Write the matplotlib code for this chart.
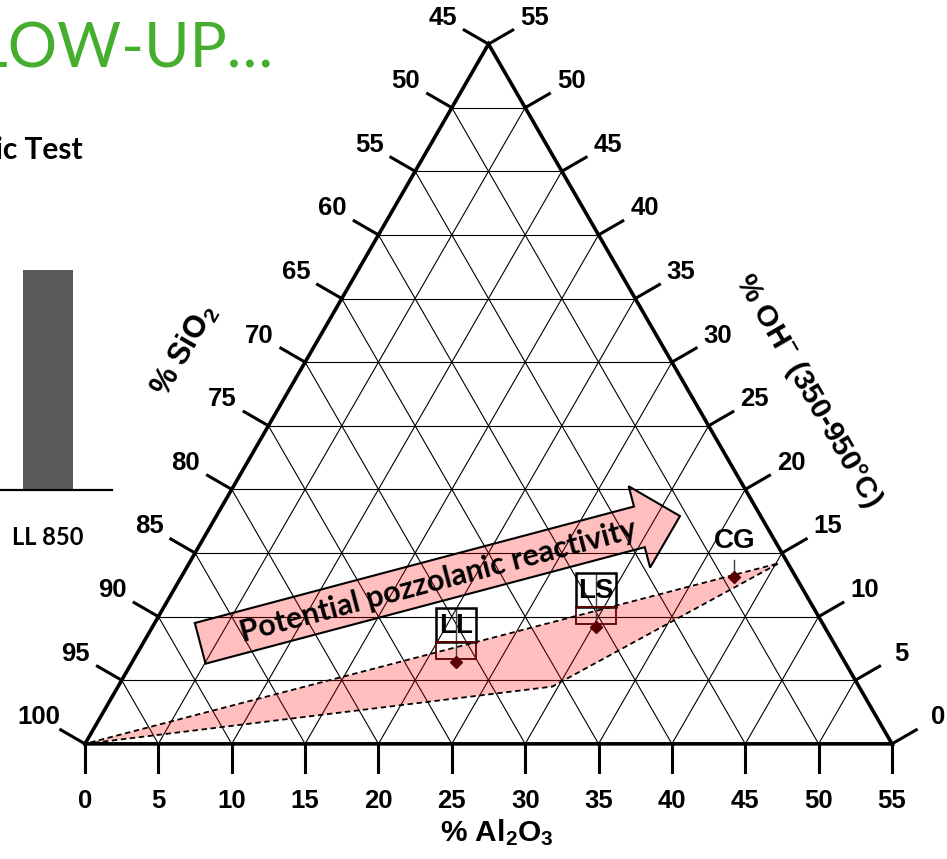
import numpy as np
import matplotlib
matplotlib.use("Agg")
import matplotlib.pyplot as plt
from matplotlib.patches import Polygon, FancyArrow, Rectangle

# sample compositions (wt.%)
samples = ["LL", "LS", "CG"]
al2o3 = [22.1, 30.2, 37.7]
oh = [6.4, 9.2, 13.1]
boxed = [True, True, False]

# dashed "reactive" zone
zone_al2o3 = [0.0, 29.6, 40.2]
zone_oh = [0.0, 4.5, 14.2]

# trend arrow, tail -> tip
arrow_al2o3 = [3.9, 31.6]
arrow_oh = [7.9, 17.9]
arrow_text = "Potential pozzolanic reactivity"

ticks = list(range(0, 56, 5))

# left panel (cropped bar chart from the slide)
bar_labels = ["LL 850"]
bar_values = [80]

plt.rcParams['mathtext.default'] = 'regular'
plt.rcParams['font.family'] = ['Lato', 'DejaVu Sans']
plt.rcParams['font.weight'] = 'bold'
TFONT = ['Liberation Sans', 'DejaVu Sans']

W, H = 947, 859
S3 = np.sqrt(3) / 2
PX = 1 / 14.673  # data units per pixel


def tern(a, o):
    a = np.asarray(a, float)
    o = np.asarray(o, float)
    return a + o / 2, o * S3


fig = plt.figure(figsize=(W / 100, H / 100), dpi=100)
ax = fig.add_axes([0, 0, 1, 1])
ax.set_xlim(-85 * PX, 55 + 55 * PX)
ax.set_ylim(-115 * PX, 55 * S3 + 44 * PX)
ax.axis('off')

# grid every 5 %
for k in range(5, 55, 5):
    for aa, oo in [([0, 55 - k], [k, k]), ([k, k], [0, 55 - k]), ([k, 0], [0, k])]:
        gx, gy = tern(aa, oo)
        ax.plot(gx, gy, color='black', lw=0.8, zorder=1)

# triangle outline
ex, ey = tern([0, 55, 0, 0], [0, 0, 55, 0])
ax.plot(ex, ey, color='black', lw=2.6, zorder=4, solid_joinstyle='miter')

# ticks + tick labels
L = 28 * PX
off = 53 * PX
tk = dict(ha='center', va='center', fontsize=18.5, fontweight='bold', family=TFONT)
for t in ticks:
    x, y = tern(t, 0)
    ax.plot([x, x], [y, y - L], color='black', lw=2.2, zorder=4)
    ax.text(x, y - 57 * PX, str(t), **tk)
    x, y = tern(0, t)
    ax.plot([x, x - S3 * L], [y, y + 0.5 * L], color='black', lw=2.2, zorder=4)
    ax.text(x - S3 * off, y + 0.5 * off, str(100 - t), **tk)
    x, y = tern(55 - t, t)
    ax.plot([x, x + S3 * L], [y, y + 0.5 * L], color='black', lw=2.2, zorder=4)
    ax.text(x + S3 * off, y + 0.5 * off, str(t), **tk)

# axis titles
x, y = tern(0, 26.6)
d = 110 * PX
ax.text(x - S3 * d, y + 0.5 * d, "% SiO$_2$", rotation=60, ha='center', va='center',
        rotation_mode='anchor', fontsize=22, fontweight='bold', family=TFONT)
x, y = tern(55 - 23.7, 23.7)
d = 104 * PX
ax.text(x + S3 * d, y + 0.5 * d, "% OH$^{-}$ (350-950°C)", rotation=-60, ha='center',
        va='center', rotation_mode='anchor', fontsize=21.5, fontweight='bold', family=TFONT)
x, y = tern(28.1, 0)
ax.text(x, y - 89 * PX, "% Al$_2$O$_3$", ha='center', va='center', fontsize=21.5,
        fontweight='bold', family=TFONT)

# reactive zone
zx, zy = tern(zone_al2o3, zone_oh)
ax.add_patch(Polygon(np.column_stack([zx, zy]), closed=True, facecolor=(1, 0, 0, 0.25),
                     edgecolor='black', ls=(0, (3, 2)), lw=1.3, zorder=2))

# arrow
axx, axy = tern(arrow_al2o3, arrow_oh)
ax.add_patch(FancyArrow(axx[0], axy[0], axx[1] - axx[0], axy[1] - axy[0],
                        width=42 * PX, head_width=84 * PX, head_length=42 * PX,
                        length_includes_head=True, facecolor=(1, 0, 0, 0.25),
                        edgecolor='black', lw=1.5, zorder=3))
ang = np.degrees(np.arctan2(axy[1] - axy[0], axx[1] - axx[0]))
ax.text(axx.mean() - 2 * PX, axy.mean() - 1 * PX, arrow_text, rotation=ang,
        rotation_mode='anchor', ha='center', va='center', fontsize=22,
        fontweight='bold', zorder=6)

# samples
sx, sy = tern(al2o3, oh)
for name, x, y, bx in zip(samples, sx, sy, boxed):
    if bx:
        ax.plot([x, x], [y + 3 * PX, y + 54 * PX], color='#404040', lw=1, zorder=5)
        ax.add_patch(Rectangle((x - 20 * PX, y + 20 * PX), 40 * PX, 34 * PX, fill=False,
                               edgecolor='black', lw=1.8, zorder=5))
        ax.add_patch(Rectangle((x - 20 * PX, y + 3 * PX), 40 * PX, 17 * PX, fill=False,
                               edgecolor='#5a0000', lw=1.3, zorder=5))
    else:
        ax.plot([x, x], [y + 6 * PX, y + 17 * PX], color='#404040', lw=1, zorder=5)
    ax.text(x, y + 36 * PX, name, ha='center', va='center', fontsize=20,
            fontweight='bold', family=TFONT, zorder=6)
ax.plot(sx, sy, ls='none', marker='D', ms=6, color='#5a0000', zorder=6)

# left part of the slide
fig.text(273 / W, 1 - 68 / H, "FOLLOW-UP…", ha='right', va='baseline', fontsize=44.5,
         color='#45AE2F', fontweight='normal')
fig.text(83 / W, 1 - 159 / H, "Pozzolanic Test", ha='right', va='baseline', fontsize=21.5,
         fontweight='bold')

bax = fig.add_axes([0, (H - 490) / H, 112 / W, 275 / H])
bax.bar(range(len(bar_values)), bar_values, width=0.6, color='#595959', zorder=2)
bax.set_xlim(-48 / 83.3, 64 / 83.3)
bax.set_ylim(0, 100)
bax.patch.set_alpha(0)
for s in ['top', 'left', 'right']:
    bax.spines[s].set_visible(False)
bax.spines['bottom'].set_linewidth(1.6)
bax.set_yticks([])
bax.set_xticks(range(len(bar_labels)), bar_labels, fontsize=17, fontweight='bold')
bax.tick_params(axis='x', length=0, pad=26)

fig.savefig("out.png", dpi=100)
